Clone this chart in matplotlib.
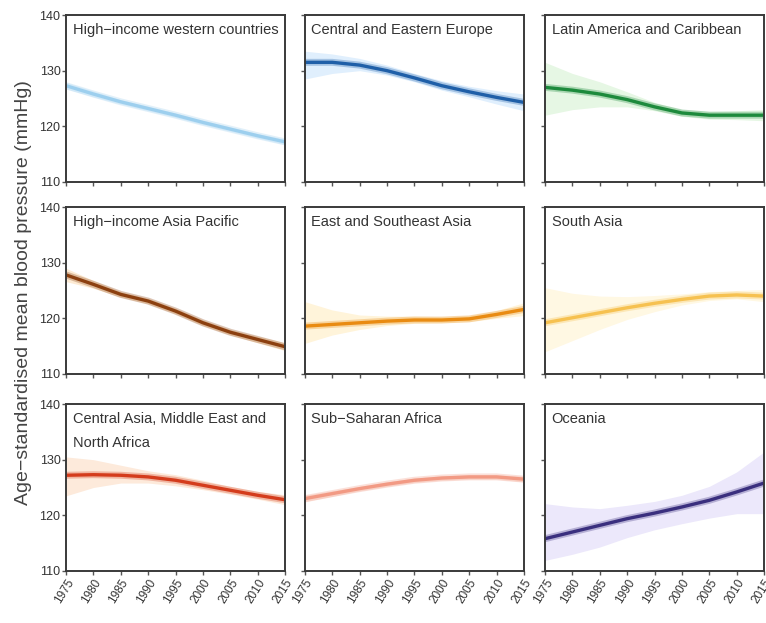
import matplotlib.pyplot as plt
import numpy as np
from matplotlib import font_manager

years = [1975, 1980, 1985, 1990, 1995, 2000, 2005, 2010, 2015]

regions = ['High\u2212income western countries', 'Central and Eastern Europe',
           'Latin America and Caribbean', 'High\u2212income Asia Pacific',
           'East and Southeast Asia', 'South Asia',
           'Central Asia, Middle East and\nNorth Africa', 'Sub\u2212Saharan Africa',
           'Oceania']

hiwc = [127.3, 125.8, 124.4, 123.2, 122.0, 120.7, 119.5, 118.3, 117.2]
hiwc_lo = [126.7, 125.3, 124.0, 122.8, 121.6, 120.3, 119.1, 117.9, 116.7]
hiwc_hi = [127.9, 126.3, 124.8, 123.6, 122.4, 121.1, 119.9, 118.7, 117.7]

cee = [131.5, 131.5, 131.0, 130.0, 128.7, 127.3, 126.2, 125.2, 124.3]
cee_lo = [128.5, 129.5, 130.0, 129.2, 128.0, 126.5, 125.3, 124.0, 122.8]
cee_hi = [133.5, 133.0, 132.2, 131.0, 129.5, 128.2, 127.2, 126.4, 125.8]

lac = [127.0, 126.5, 125.8, 124.8, 123.5, 122.4, 122.0, 122.0, 122.0]
lac_lo = [122.0, 123.0, 123.5, 123.5, 122.8, 121.8, 121.3, 121.2, 121.0]
lac_hi = [131.5, 129.5, 128.0, 126.2, 124.3, 123.0, 122.7, 122.8, 123.0]

hiap = [127.8, 126.1, 124.3, 123.1, 121.3, 119.2, 117.5, 116.2, 114.9]
hiap_lo = [126.6, 125.4, 123.8, 122.6, 120.8, 118.7, 117.0, 115.6, 114.2]
hiap_hi = [129.0, 126.8, 124.8, 123.6, 121.8, 119.7, 118.0, 116.8, 115.6]

esea = [118.6, 118.9, 119.2, 119.5, 119.7, 119.7, 119.9, 120.7, 121.6]
esea_lo = [115.5, 117.0, 118.0, 118.7, 119.1, 119.2, 119.4, 120.0, 120.5]
esea_hi = [123.0, 121.5, 120.6, 120.4, 120.4, 120.3, 120.5, 121.4, 122.8]

sa = [119.2, 120.1, 121.0, 121.9, 122.7, 123.4, 124.0, 124.2, 124.0]
sa_lo = [114.0, 116.0, 118.0, 119.8, 121.2, 122.4, 123.2, 123.5, 123.0]
sa_hi = [125.5, 124.5, 124.0, 123.9, 124.1, 124.4, 124.8, 125.0, 125.2]

camena = [127.2, 127.3, 127.2, 126.9, 126.3, 125.4, 124.5, 123.6, 122.8]
camena_lo = [123.5, 125.0, 125.8, 125.8, 125.3, 124.6, 123.8, 122.9, 121.9]
camena_hi = [130.5, 130.0, 129.0, 128.0, 127.3, 126.3, 125.2, 124.3, 123.7]

ssa = [123.0, 123.9, 124.8, 125.6, 126.3, 126.7, 126.9, 126.9, 126.5]
ssa_lo = [122.4, 123.4, 124.4, 125.2, 125.9, 126.3, 126.5, 126.5, 126.0]
ssa_hi = [123.6, 124.4, 125.2, 126.0, 126.7, 127.1, 127.3, 127.3, 127.0]

oce = [115.8, 117.0, 118.2, 119.4, 120.4, 121.5, 122.7, 124.2, 125.8]
oce_lo = [111.9, 113.0, 114.3, 116.0, 117.4, 118.5, 119.5, 120.3, 120.3]
oce_hi = [122.1, 121.5, 121.2, 121.8, 122.5, 123.6, 125.2, 127.8, 131.4]

means = [hiwc, cee, lac, hiap, esea, sa, camena, ssa, oce]
lows = [hiwc_lo, cee_lo, lac_lo, hiap_lo, esea_lo, sa_lo, camena_lo, ssa_lo, oce_lo]
highs = [hiwc_hi, cee_hi, lac_hi, hiap_hi, esea_hi, sa_hi, camena_hi, ssa_hi, oce_hi]

line_cols = ['#9dcfee', '#1f5fa8', '#1d8a3c', '#8c4010', '#e98b12', '#f6c150',
             '#d43c1c', '#f29a84', '#3a2f7e']
band_cols = ['#eaf5fd', '#e0effd', '#e6f7e4', '#fdebd4', '#fff4da', '#fff8e3',
             '#fdeadb', '#fde9e2', '#ece8fb']

names = [f.name for f in font_manager.fontManager.ttflist]
fam = 'Liberation Sans Narrow' if 'Liberation Sans Narrow' in names else 'Liberation Sans'
plt.rcParams['font.family'] = [fam, 'DejaVu Sans']

fig = plt.figure(figsize=(7.66, 6.23), dpi=100)

lefts = [0.0862, 0.398, 0.7115]
bottoms = [0.7079, 0.3997, 0.0835]
w = 0.286
h = 0.268

for i in range(9):
    r, c = divmod(i, 3)
    ax = fig.add_axes([lefts[c], bottoms[r], w, h])
    ax.fill_between(years, lows[i], highs[i], color=band_cols[i], lw=0)
    ax.plot(years, means[i], color=line_cols[i], lw=5, alpha=0.3, solid_capstyle='butt')
    ax.plot(years, means[i], color=line_cols[i], lw=2.4, solid_capstyle='butt')
    ax.set_xlim(1975, 2015)
    ax.set_ylim(110, 140)
    ax.set_xticks(years)
    ax.set_yticks([110, 120, 130, 140])
    for s in ax.spines.values():
        s.set_color('#3a3a3a')
        s.set_linewidth(1.4)
    ax.tick_params(direction='out', length=3, width=1, color='#555555',
                   labelsize=9, labelcolor='#333333', pad=1)
    if c != 0:
        ax.set_yticklabels([])
    if r != 2:
        ax.set_xticklabels([])
    else:
        ax.set_xticklabels([str(y) for y in years], rotation=58, ha='right',
                           rotation_mode='anchor', fontsize=8.5)
    ax.text(0.03, 0.95, regions[i], transform=ax.transAxes, ha='left', va='top',
            fontsize=10.5, color='#333333', linespacing=1.9)

fig.text(0.031, 0.53, 'Age\u2212standardised mean blood pressure (mmHg)',
         rotation=90, ha='center', va='center', fontsize=14, color='#444444')

fig.savefig('out.png', dpi=100, facecolor='white')
